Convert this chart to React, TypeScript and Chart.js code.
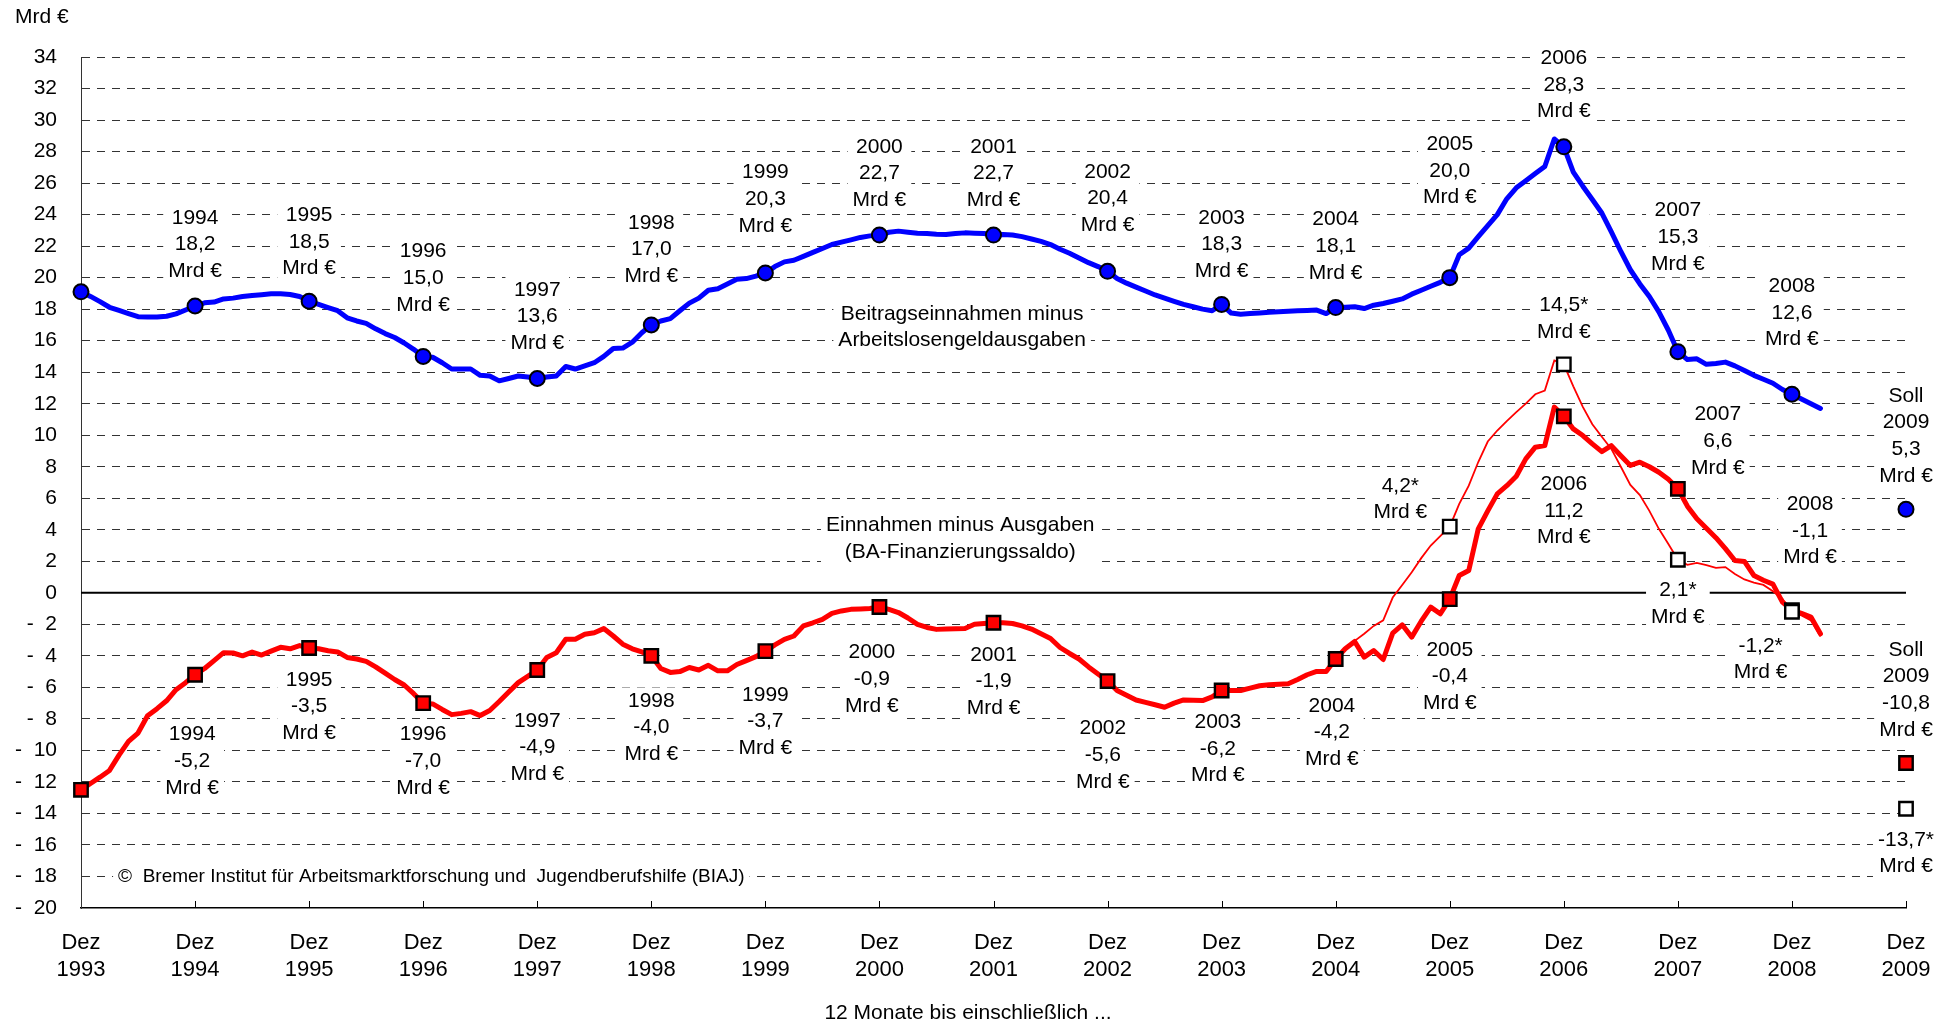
import { useEffect, useRef } from 'react';
import { Chart, registerables } from 'chart.js';

Chart.register(...registerables);

const FONT = "'Liberation Sans', Arial, Helvetica, sans-serif";

// x axis: months counted from Dez 1993 (0) to Dez 2009 (192)
const tickYears = ['1993', '1994', '1995', '1996', '1997', '1998', '1999', '2000', '2001',
  '2002', '2003', '2004', '2005', '2006', '2007', '2008', '2009'];

// December values (Dez 1993 ... Dez 2008)
const dezYears = [1993, 1994, 1995, 1996, 1997, 1998, 1999, 2000, 2001, 2002, 2003, 2004, 2005, 2006, 2007, 2008];
const beitragDez = [19.1, 18.2, 18.5, 15.0, 13.6, 17.0, 20.3, 22.7, 22.7, 20.4, 18.3, 18.1, 20.0, 28.3, 15.3, 12.6];
const saldoDez = [-12.5, -5.2, -3.5, -7.0, -4.9, -4.0, -3.7, -0.9, -1.9, -5.6, -6.2, -4.2, -0.4, 11.2, 6.6, -1.1];
const starYears = [2005, 2006, 2007, 2008];
const saldoStarDez = [4.2, 14.5, 2.1, -1.2];
const sollBeitrag2009 = 5.3;
const sollSaldo2009 = -10.8;
const sollSaldoStar2009 = -13.7;

// monthly rolling 12-month values, Dez 1993 .. Mar 2009
const beitragMonthly = [
  19.1, 18.81, 18.48, 18.12, 17.92, 17.72, 17.52, 17.5, 17.5, 17.55, 17.7, 17.95,
  18.2, 18.4, 18.45, 18.65, 18.7, 18.8, 18.87, 18.92, 18.97, 18.98, 18.93, 18.8,
  18.5, 18.3, 18.1, 17.9, 17.45, 17.25, 17.1, 16.75, 16.45, 16.2, 15.85, 15.45,
  15.0, 14.95, 14.6, 14.2, 14.2, 14.2, 13.8, 13.76, 13.45, 13.6, 13.76, 13.7,
  13.6, 13.7, 13.76, 14.36, 14.2, 14.4, 14.6, 15.0, 15.5, 15.53, 15.9, 16.5,
  17.0, 17.25, 17.4, 17.9, 18.38, 18.7, 19.2, 19.3, 19.6, 19.9, 19.94, 20.1,
  20.3, 20.7, 21.0, 21.1, 21.35, 21.6, 21.85, 22.1, 22.25, 22.4, 22.55, 22.65,
  22.7, 22.88, 22.95, 22.88, 22.82, 22.8, 22.76, 22.74, 22.8, 22.84, 22.82, 22.8,
  22.7, 22.74, 22.7, 22.6, 22.45, 22.3, 22.1, 21.8, 21.55, 21.25, 20.95, 20.7,
  20.4, 19.95, 19.65, 19.4, 19.15, 18.9, 18.7, 18.5, 18.3, 18.15, 18.0, 17.9,
  18.3, 17.75, 17.68, 17.72, 17.76, 17.8, 17.83, 17.86, 17.9, 17.92, 17.94, 17.72,
  18.1, 18.12, 18.15, 18.04, 18.25, 18.36, 18.5, 18.65, 18.95, 19.2, 19.45, 19.7,
  20.0, 21.45, 21.87, 22.6, 23.3, 24.0, 25.0, 25.7, 26.15, 26.6, 27.05, 28.8,
  28.3, 26.7, 25.8, 24.96, 24.1, 22.9, 21.66, 20.5, 19.6, 18.8, 17.83, 16.66,
  15.3, 14.8, 14.85, 14.5, 14.55, 14.64, 14.4, 14.1, 13.8, 13.55, 13.3, 12.9,
  12.6, 12.3, 12.0, 11.7,
];

const saldoMonthly = [
  -12.5, -12.1, -11.7, -11.27, -10.3, -9.43, -8.9, -7.8, -7.35, -6.85, -6.15, -5.7,
  -5.2, -4.8, -4.3, -3.8, -3.82, -4.0, -3.76, -3.95, -3.7, -3.46, -3.55, -3.35,
  -3.5, -3.55, -3.68, -3.75, -4.1, -4.2, -4.35, -4.7, -5.1, -5.5, -5.85, -6.4,
  -7.0, -7.05, -7.4, -7.73, -7.65, -7.54, -7.79, -7.47, -6.9, -6.3, -5.7, -5.3,
  -4.9, -4.1, -3.8, -2.95, -2.95, -2.63, -2.53, -2.27, -2.74, -3.26, -3.55, -3.75,
  -4.0, -4.8, -5.05, -5.0, -4.74, -4.9, -4.6, -4.95, -4.95, -4.55, -4.3, -4.05,
  -3.7, -3.3, -2.95, -2.74, -2.1, -1.9, -1.68, -1.3, -1.15, -1.05, -1.02, -1.0,
  -0.9, -1.05, -1.25, -1.6, -2.0, -2.2, -2.32, -2.3, -2.28, -2.27, -2.0, -1.95,
  -1.9, -1.9, -1.95, -2.1, -2.3, -2.6, -2.9, -3.47, -3.85, -4.2, -4.7, -5.15,
  -5.6, -6.2, -6.5, -6.8, -6.95, -7.1, -7.26, -7.0, -6.8, -6.82, -6.84, -6.6,
  -6.2, -6.2, -6.2, -6.05, -5.9, -5.84, -5.8, -5.77, -5.5, -5.2, -4.99, -4.99,
  -4.2, -3.55, -3.09, -4.08, -3.66, -4.23, -2.56, -2.03, -2.81, -1.8, -0.91, -1.33,
  -0.4, 1.1, 1.42, 4.06, 5.2, 6.28, 6.8, 7.4, 8.5, 9.24, 9.34, 11.78,
  11.2, 10.4, 9.98, 9.45, 8.96, 9.34, 8.7, 8.08, 8.29, 8.0, 7.65, 7.2,
  6.6, 5.5, 4.7, 4.1, 3.5, 2.8, 2.05, 1.99, 1.1, 0.8, 0.55, -0.59,
  -1.1, -1.3, -1.54, -2.6,
];

// thin line (values marked with *), Dez 2004 .. Mar 2009
const STAR_START_MONTH = 132;
const saldoStarMonthly = [
  -4.14, -3.5, -3.05, -2.6, -2.1, -1.75, -0.3, 0.5, 1.3, 2.2, 3.0, 3.6,
  4.2, 5.64, 6.8, 8.3, 9.6, 10.3, 10.9, 11.46, 12.0, 12.6, 12.83, 14.74,
  14.5, 13.1, 11.8, 10.7, 9.9, 9.13, 8.0, 6.85, 6.2, 5.2, 4.06, 3.1,
  2.1, 1.78, 1.9, 1.75, 1.58, 1.63, 1.2, 0.85, 0.65, 0.5, 0.1, -0.38,
  -1.2, -1.44, -1.75, -2.77,
];

// label anchors [month, value of first text line]
const beitragLabelPos = [
  null, [12, 23.8], [24, 23.96], [36, 21.67], [48, 19.23], [60, 23.48], [72, 26.66], [84, 28.3],
  [96, 28.3], [108, 26.72], [120, 23.8], [132, 23.7], [144, 28.47], [156, 33.92], [168, 24.26], [180, 19.45],
];
const saldoLabelPos = [
  null, [11.7, -9.0], [24, -5.52], [36, -9.0], [48, -8.12], [60, -6.85], [72, -6.47], [83.2, -3.78],
  [96, -3.93], [107.5, -8.6], [119.6, -8.21], [131.6, -7.17], [144, -3.62], [156, 6.89], [172.2, 11.32], [181.9, 5.63],
];
const starLabelPos = [[138.8, 6.78], [156, 18.24], [168, 0.15], [176.7, -3.36]];
const sollBeitragLabelPos = [192, 12.5];
const sollSaldoLabelPos = [192, -3.62];
const sollStarLabelPos = [192, -15.67];

const fmt = (v: number) => v.toFixed(1).replace('.', ',');
const monthOf = (year: number) => (year - 1993) * 12;

const LABEL_FONT = `21px ${FONT}`;
const LINE_H = 26.7;

function drawBlock(ctx: CanvasRenderingContext2D, xs: any, ys: any, lines: string[], m: number, v: number, align: 'center' | 'left' = 'center') {
  const cx = xs.getPixelForValue(m);
  const cy = ys.getPixelForValue(v);
  let w = 0;
  for (const l of lines) w = Math.max(w, ctx.measureText(l).width);
  const pad = 5;
  const left = align === 'center' ? cx - w / 2 : cx;
  ctx.fillStyle = '#ffffff';
  ctx.fillRect(left - pad, cy - LINE_H / 2, w + 2 * pad, LINE_H * lines.length);
  ctx.fillStyle = '#000000';
  ctx.textAlign = align;
  lines.forEach((l, i) => ctx.fillText(l, cx, cy + i * LINE_H));
}

const overlayPlugin = {
  id: 'overlay',
  beforeDatasetsDraw(chart: any) {
    const { ctx, chartArea: ca, scales } = chart;
    const xs = scales.x;
    const ys = scales.y;
    ctx.save();
    // zero line
    const y0 = ys.getPixelForValue(0);
    ctx.strokeStyle = '#000';
    ctx.lineWidth = 2;
    ctx.beginPath();
    ctx.moveTo(ca.left, y0);
    ctx.lineTo(ca.right, y0);
    ctx.stroke();
    // inward x ticks
    ctx.lineWidth = 1;
    ctx.beginPath();
    for (let i = 1; i < tickYears.length; i++) {
      const px = Math.round(xs.getPixelForValue(i * 12)) + 0.5;
      ctx.moveTo(px, ca.bottom);
      ctx.lineTo(px, ca.bottom - 7);
    }
    ctx.stroke();

    ctx.font = LABEL_FONT;
    ctx.textBaseline = 'middle';
    dezYears.forEach((yr, i) => {
      const bp = beitragLabelPos[i];
      if (bp) drawBlock(ctx, xs, ys, [String(yr), fmt(beitragDez[i]), 'Mrd €'], bp[0], bp[1]);
      const sp = saldoLabelPos[i];
      if (sp) drawBlock(ctx, xs, ys, [String(yr), fmt(saldoDez[i]), 'Mrd €'], sp[0], sp[1]);
    });
    starYears.forEach((yr, i) => {
      const p = starLabelPos[i];
      drawBlock(ctx, xs, ys, [fmt(saldoStarDez[i]) + '*', 'Mrd €'], p[0], p[1]);
    });
    drawBlock(ctx, xs, ys, ['Soll', '2009', fmt(sollBeitrag2009), 'Mrd €'], sollBeitragLabelPos[0], sollBeitragLabelPos[1]);
    drawBlock(ctx, xs, ys, ['Soll', '2009', fmt(sollSaldo2009), 'Mrd €'], sollSaldoLabelPos[0], sollSaldoLabelPos[1]);
    drawBlock(ctx, xs, ys, [fmt(sollSaldoStar2009) + '*', 'Mrd €'], sollStarLabelPos[0], sollStarLabelPos[1]);

    drawBlock(ctx, xs, ys, ['Beitragseinnahmen minus', 'Arbeitslosengeldausgaben'], 92.7, 17.71);
    drawBlock(ctx, xs, ys, ['Einnahmen minus Ausgaben', '(BA-Finanzierungssaldo)'], 92.5, 4.28);
    ctx.font = `19px ${FONT}`;
    drawBlock(ctx, xs, ys, ['©  Bremer Institut für Arbeitsmarktforschung und  Jugendberufshilfe (BIAJ)'], 3.9, -18.02, 'left');
    ctx.restore();
  },
  afterDraw(chart: any) {
    const { ctx, chartArea: ca } = chart;
    ctx.save();
    ctx.fillStyle = '#000';
    ctx.font = `21px ${FONT}`;
    ctx.textBaseline = 'middle';
    ctx.textAlign = 'left';
    ctx.fillText('Mrd €', 15, ca.top - 40);
    ctx.textAlign = 'center';
    ctx.fillText('12 Monate bis einschließlich ...', 968, ca.bottom + 105);
    ctx.restore();
  },
};

export default function App() {
  const ref = useRef<HTMLCanvasElement | null>(null);

  useEffect(() => {
    if (!ref.current) return;
    const pts = (arr: number[], start = 0) => arr.map((v, i) => ({ x: start + i, y: v }));
    const chart = new Chart(ref.current, {
      type: 'line',
      data: {
        datasets: [
          {
            label: 'Beitragseinnahmen minus Arbeitslosengeldausgaben',
            data: pts(beitragMonthly),
            borderColor: '#0000ff',
            borderWidth: 5,
            pointRadius: 0,
            tension: 0,
            borderJoinStyle: 'round',
            borderCapStyle: 'round',
            order: 6,
            clip: false,
          },
          {
            label: 'Einnahmen minus Ausgaben',
            data: pts(saldoMonthly),
            borderColor: '#ff0000',
            borderWidth: 5,
            pointRadius: 0,
            tension: 0,
            borderJoinStyle: 'round',
            borderCapStyle: 'round',
            order: 5,
            clip: false,
          },
          {
            label: 'Einnahmen minus Ausgaben *',
            data: pts(saldoStarMonthly, STAR_START_MONTH),
            borderColor: '#ff0000',
            borderWidth: 1.8,
            pointRadius: 0,
            tension: 0,
            order: 4,
            clip: false,
          },
          {
            label: 'Beitrag Dez',
            data: [...dezYears.map((yr, i) => ({ x: monthOf(yr), y: beitragDez[i] })), { x: monthOf(2009), y: sollBeitrag2009 }],
            showLine: false,
            pointStyle: 'circle',
            pointRadius: 7.5,
            pointBackgroundColor: '#0000ff',
            pointBorderColor: '#000',
            pointBorderWidth: 2,
            order: 3,
            clip: false,
          },
          {
            label: 'Saldo Dez',
            data: [...dezYears.map((yr, i) => ({ x: monthOf(yr), y: saldoDez[i] })), { x: monthOf(2009), y: sollSaldo2009 }],
            showLine: false,
            pointStyle: 'rect',
            pointRadius: 9.5,
            pointBackgroundColor: '#ff0000',
            pointBorderColor: '#000',
            pointBorderWidth: 2.4,
            order: 2,
            clip: false,
          },
          {
            label: 'Saldo* Dez',
            data: [...starYears.map((yr, i) => ({ x: monthOf(yr), y: saldoStarDez[i] })), { x: monthOf(2009), y: sollSaldoStar2009 }],
            showLine: false,
            pointStyle: 'rect',
            pointRadius: 9.5,
            pointBackgroundColor: '#ffffff',
            pointBorderColor: '#000',
            pointBorderWidth: 2.4,
            order: 1,
            clip: false,
          },
        ],
      },
      options: {
        animation: false,
        responsive: false,
        devicePixelRatio: 1,
        layout: { padding: { left: 0, top: 57, right: 47, bottom: 0 } },
        plugins: { legend: { display: false }, tooltip: { enabled: false } },
        scales: {
          x: {
            type: 'linear',
            min: 0,
            max: 192,
            afterFit: (s: any) => { s.height = 117; },
            grid: { display: false, drawTicks: false },
            border: { display: true, color: '#000', width: 1.5 },
            ticks: {
              stepSize: 12,
              autoSkip: false,
              maxRotation: 0,
              padding: 21.5,
              color: '#000',
              font: { family: FONT, size: 22, lineHeight: 27 / 22 },
              callback: (v: any) => ['Dez', tickYears[Math.round(Number(v) / 12)]],
            },
          },
          y: {
            type: 'linear',
            min: -20,
            max: 34,
            afterFit: (s: any) => { s.width = 81; },
            grid: {
              drawTicks: false,
              color: (c: any) => (c.tick && c.tick.value === -20 ? 'rgba(0,0,0,0)' : '#333'),
              lineWidth: 1,
            },
            border: { display: true, color: '#333', width: 1, dash: [8, 7] },
            ticks: {
              stepSize: 2,
              autoSkip: false,
              padding: 24,
              color: '#000',
              font: { family: FONT, size: 21 },
              callback: (v: any) => (Number(v) < 0 ? '-  ' + Math.abs(Number(v)) : String(v)),
            },
          },
        },
      },
      plugins: [overlayPlugin],
    } as any);
    return () => chart.destroy();
  }, []);

  return (
    <div style={{ position: 'fixed', left: 0, top: 0, width: 1953, height: 1025, background: '#fff' }}>
      <canvas ref={ref} width={1953} height={1025} style={{ width: 1953, height: 1025, display: 'block' }} />
    </div>
  );
}
